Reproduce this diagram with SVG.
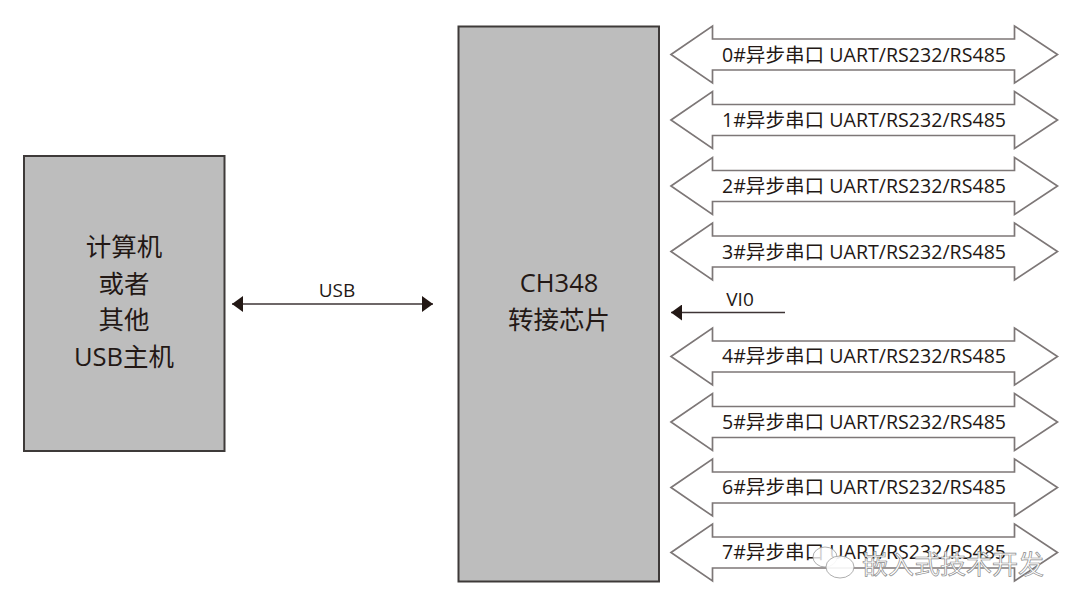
<svg xmlns="http://www.w3.org/2000/svg" width="1080" height="612" viewBox="0 0 1080 612">
<style>
text{font-family:"Open Sans","Noto Sans CJK SC",sans-serif;fill:#231815;text-anchor:middle}
.box{fill:#bdbdbd;stroke:#3e3a39;stroke-width:2}
.big{font-size:25.500px}
.bus{fill:#fff;stroke:#7d7777;stroke-width:1.700}
.lbl{font-size:19.600px}
.wire{stroke:#3e3436;stroke-width:1.600;fill:none}
.wm{font-size:26px;fill:#fff;stroke:#8a8a8a;stroke-width:.7;text-anchor:start}
</style>
<defs>
<path id="bus" class="bus" d="M-193 0L-151.500-28.500V-15.500H150.500V-28.500L193.500 0L150.500 28.500V15.500H-151.500V28.500Z"/>
<marker id="ah" markerUnits="userSpaceOnUse" markerWidth="12" markerHeight="16" refX="11" refY="8" orient="auto-start-reverse"><path d="M0 0L11 8L0 16Z" fill="#231815"/></marker>
</defs>
<g id="host"><rect class="box" x="24" y="156" width="200.500" height="295"/>
<text class="big" x="124" y="256">计算机</text><text class="big" x="124" y="293">或者</text><text class="big" x="124" y="329">其他</text><text class="big" x="124" y="366">USB主机</text></g>
<g id="chip"><rect class="box" x="458.500" y="26.500" width="200.500" height="555"/>
<text class="big" x="559" y="292">CH348</text><text class="big" x="559" y="329">转接芯片</text></g>
<g id="connectors">
<path class="wire" d="M232 304H433" marker-start="url(#ah)" marker-end="url(#ah)"/>
<path class="wire" d="M785 312.500H671" marker-end="url(#ah)"/>
<text x="337" y="297" font-size="19">USB</text>
<text x="740" y="306" font-size="19">VI0</text>
</g>
<g id="uart0"><use href="#bus" x="864" y="54.500"/><text class="lbl" x="864" y="61.500">0#异步串口 UART/RS232/RS485</text></g>
<g id="uart1"><use href="#bus" x="864" y="120"/><text class="lbl" x="864" y="127">1#异步串口 UART/RS232/RS485</text></g>
<g id="uart2"><use href="#bus" x="864" y="186"/><text class="lbl" x="864" y="192.500">2#异步串口 UART/RS232/RS485</text></g>
<g id="uart3"><use href="#bus" x="864" y="251.500"/><text class="lbl" x="864" y="258.500">3#异步串口 UART/RS232/RS485</text></g>
<g id="uart4"><use href="#bus" x="864" y="356.500"/><text class="lbl" x="864" y="363">4#异步串口 UART/RS232/RS485</text></g>
<g id="uart5"><use href="#bus" x="864" y="422"/><text class="lbl" x="864" y="428.500">5#异步串口 UART/RS232/RS485</text></g>
<g id="uart6"><use href="#bus" x="864" y="487.500"/><text class="lbl" x="864" y="494">6#异步串口 UART/RS232/RS485</text></g>
<g id="uart7"><use href="#bus" x="864" y="552.500"/><text class="lbl" x="864" y="559">7#异步串口 UART/RS232/RS485</text></g>
<g id="watermark">
<ellipse cx="825" cy="557" rx="12" ry="10" fill="#fff" fill-opacity=".8" stroke="#999" stroke-width=".8"/>
<ellipse cx="840" cy="567" rx="14" ry="11" fill="#fff" fill-opacity=".9" stroke="#999" stroke-width=".8"/>
<text class="wm" x="862" y="574">嵌入式技术开发</text>
</g>
</svg>
